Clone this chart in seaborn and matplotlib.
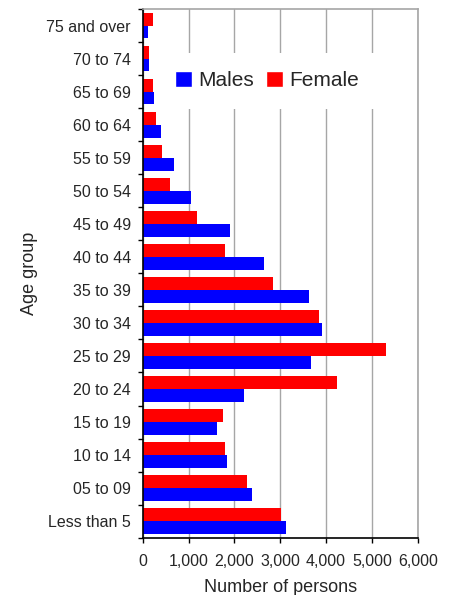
import numpy as np
import pandas as pd
import matplotlib
matplotlib.use("Agg")
import matplotlib.pyplot as plt
import seaborn as sns
from matplotlib.patches import Patch
from matplotlib.ticker import FuncFormatter

# Data
age_groups = ["75 and over", "70 to 74", "65 to 69", "60 to 64", "55 to 59",
              "50 to 54", "45 to 49", "40 to 44", "35 to 39", "30 to 34",
              "25 to 29", "20 to 24", "15 to 19", "10 to 14", "05 to 09",
              "Less than 5"]
males = [110, 145, 240, 400, 676, 1054, 1905, 2654, 3636, 3920,
         3666, 2217, 1621, 1847, 2385, 3134]
females = [218, 145, 218, 297, 428, 589, 1178, 1803, 2850, 3854,
           5302, 4233, 1746, 1803, 2283, 3011]
x_ticks = [0, 1000, 2000, 3000, 4000, 5000, 6000]

df = pd.DataFrame({"age": age_groups * 2,
                   "sex": ["Female"] * len(age_groups) + ["Male"] * len(age_groups),
                   "persons": females + males})

sns.set_style("white")
plt.rcParams["font.family"] = ["Liberation Sans", "DejaVu Sans"]

fig = plt.figure(figsize=(4.55, 5.95), dpi=100)
ax = fig.add_axes([0.3136, 0.0963, 0.6044, 0.8886])

sns.barplot(data=df, y="age", x="persons", hue="sex", order=age_groups,
            hue_order=["Female", "Male"], orient="h", width=0.78,
            palette={"Female": "#ff0000", "Male": "#0000ff"}, saturation=1,
            edgecolor="none", legend=False, ax=ax)

ax.set_xlim(0, 6000)
ax.set_ylim(len(age_groups) - 0.5, -0.5)
ax.set_xticks(x_ticks)
ax.xaxis.set_major_formatter(FuncFormatter(lambda v, p: f"{int(v):,}"))
ax.xaxis.grid(True, color="#a6a6a6", linewidth=1)
ax.set_axisbelow(True)

ax.set_yticks(np.arange(-0.5, len(age_groups), 1), minor=True)
ax.tick_params(axis="y", which="major", length=0, pad=8.5, labelsize=11.5)
ax.tick_params(axis="y", which="minor", length=3.6, width=1, color="black", left=True)
ax.tick_params(axis="x", length=3.6, width=1, color="black", bottom=True,
               labelsize=11.5, pad=8)

for side in ["top", "right"]:
    ax.spines[side].set_color("#a6a6a6")
    ax.spines[side].set_linewidth(1.2)
for side in ["left", "bottom"]:
    ax.spines[side].set_color("black")
    ax.spines[side].set_linewidth(1.2)

ax.set_xlabel("Number of persons", fontsize=13, labelpad=7)
ax.set_ylabel("Age group", fontsize=13)
ax.yaxis.set_label_coords(-0.381, 0.5)

handles = [Patch(facecolor="#0000ff", label="Males"),
           Patch(facecolor="#ff0000", label="Female")]
leg = ax.legend(handles=handles, loc="center", bbox_to_anchor=(0.452, 0.864),
                ncol=2, fontsize=15, handlelength=0.8, handleheight=0.8,
                handletextpad=0.3, columnspacing=0.6, frameon=True,
                fancybox=False, borderpad=0.9)
leg.get_frame().set_facecolor("white")
leg.get_frame().set_edgecolor("none")
leg.get_frame().set_alpha(1)

fig.savefig("out.png", dpi=100)
